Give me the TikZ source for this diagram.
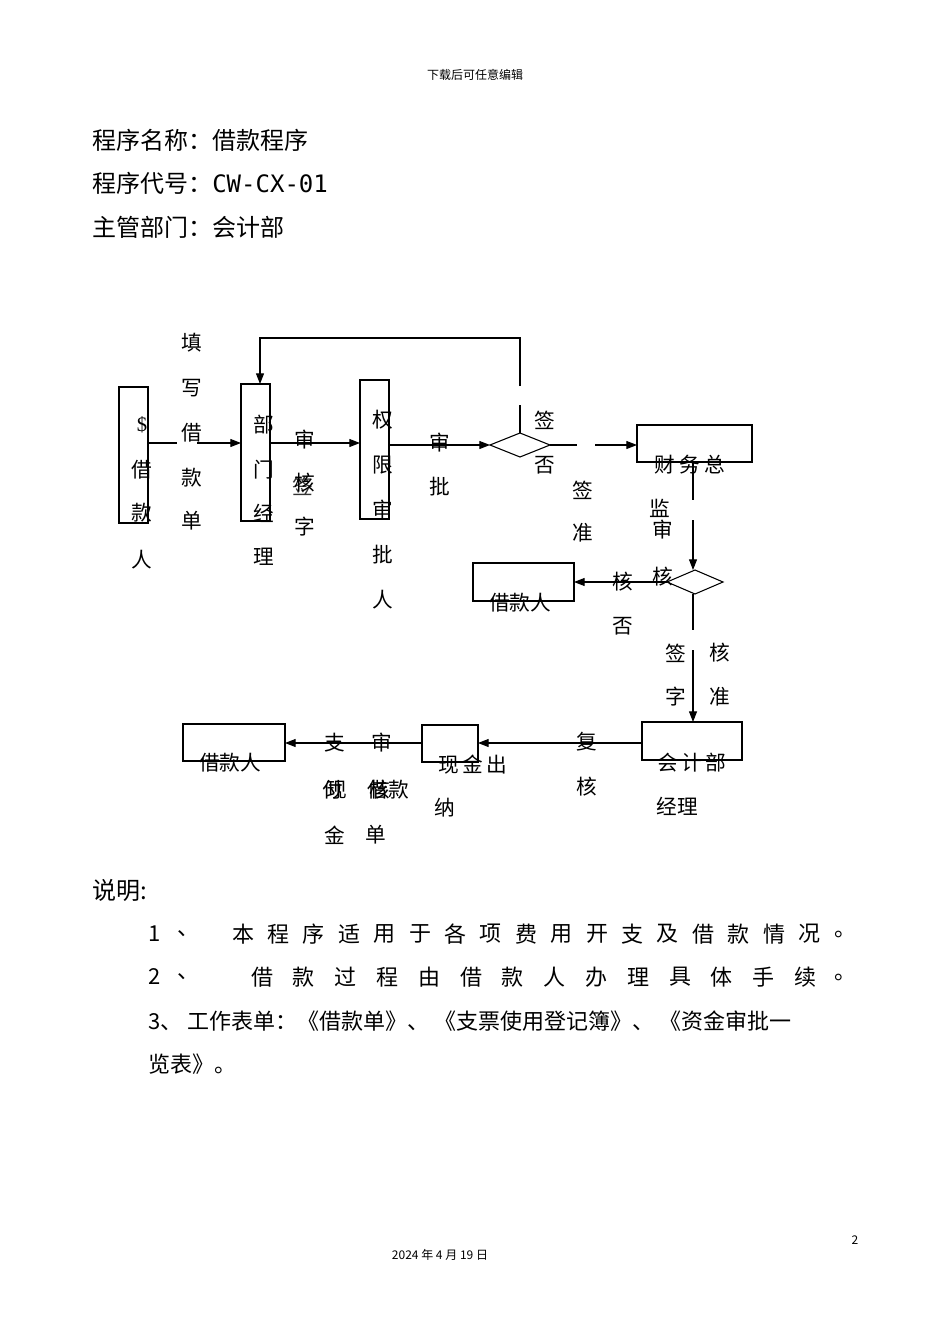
\documentclass[tikz,border=0pt]{standalone}
\usepackage{fontspec}
\setmainfont{Noto Sans CJK SC}
\newfontfamily\monof{DejaVu Sans Mono}
\newfontfamily\serf{Liberation Serif}
\usetikzlibrary{arrows.meta}
\begin{document}
\begin{tikzpicture}[x=0.75pt,y=-0.75pt,
  bx/.style={draw,line width=0.8pt},
  ln/.style={line width=0.8pt},
  ar/.style={line width=0.8pt,-{Triangle[length=8pt,width=6pt]}},
  ch/.style={inner sep=0pt,font=\fontsize{15.5}{16}\selectfont},
  big/.style={inner sep=0pt,anchor=west,font=\fontsize{18}{20}\selectfont},
  ds/.style={inner sep=0pt,font=\fontsize{16.5}{18}\selectfont}]
\useasboundingbox[fill=white] (0,0) rectangle (950,1344);
\node[inner sep=0pt,font=\fontsize{9}{10}\selectfont] (hd) at (475,75) {下载后可任意编辑};
\node[big] (t1) at (92,140) {程序名称：借款程序};
\node[big] (t2) at (92,183) {程序代号：{\monof CW-CX-01}};
\node[big] (t3) at (92,227) {主管部门：会计部};
% boxes
\draw[bx] (119,387) rectangle (148,523) coordinate (b1);
\coordinate (b1r) at (148,443);
\draw[bx] (241,384) rectangle (270,521);
\draw[bx] (360,380) rectangle (389,519);
\draw[bx] (637,425) rectangle (752,462);
\draw[bx] (473,563) rectangle (574,601);
\draw[bx] (642,722) rectangle (742,760);
\draw[bx] (422,725) rectangle (478,762);
\draw[bx] (183,724) rectangle (285,761);
\draw[bx] (490,445) -- (520,433) -- (550,445) -- (520,457) -- cycle;
\draw[bx] (667,582) -- (695,570) -- (723,582) -- (695,594) -- cycle;
% connectors
\coordinate (c1) at (177,443); \coordinate (c2) at (197,443); \coordinate (c3) at (241,443);
\draw[ln] (b1r) -- (c1); \draw[ar] (c2) -- (c3);
\draw[ar] (270,443) -- (360,443);
\draw[ar] (389,445) -- (490,445);
\draw[ln] (520,405) -- (520,433);
\draw[ar] (520,386) -- (520,338) -- (260,338) -- (260,384);
\draw[ln] (550,445) -- (577,445);
\draw[ar] (595,445) -- (637,445);
\draw[ln] (693,462) -- (693,500);
\draw[ar] (693,520) -- (693,570);
\draw[ar] (667,582) -- (574,582);
\draw[ln] (693,594) -- (693,630);
\draw[ar] (693,650) -- (693,722);
\draw[ar] (642,743) -- (478,743);
\draw[ar] (422,743) -- (285,743);
% texts
\foreach \c/\y in {{\serf\$}/425,借/470,款/513,人/560} \node[ch] at (142,\y) {\c};
\foreach \c/\y in {填/343,写/388,借/433,款/478,单/521} \node[ch] at (192,\y) {\c};
\foreach \c/\y in {部/425,门/470,经/513,理/557} \node[ch] at (264,\y) {\c};
\foreach \c/\y in {审/440,核/483,字/527} \node[ch] at (305,\y) {\c};
\node[ch,opacity=0.8] at (303,486) {签};
\foreach \c/\y in {权/420,限/465,审/510,批/555,人/600} \node[ch] at (383,\y) {\c};
\foreach \c/\y in {审/443,批/487} \node[ch] at (440,\y) {\c};
\node[ch] at (545,420) {签}; \node[ch] at (545,465) {否};
\node[ch] at (583,490) {签}; \node[ch] at (583,533) {准};
\node[ch] at (690,465) {财\ 务\ 总};
\node[ch] at (660,508) {监}; \node[ch] at (663,530) {审};
\node[ch] at (663,577) {核};
\node[ch] at (623,582) {核}; \node[ch] at (623,626) {否};
\node[ch] at (520,603) {借款人};
\node[ch] at (676,653) {签}; \node[ch] at (676,697) {字};
\node[ch] at (720,653) {核}; \node[ch] at (720,697) {准};
\node[ch] at (692,763) {会\,计\,部}; \node[ch] at (677,806) {经理};
\node[ch] at (587,742) {复}; \node[ch] at (587,787) {核};
\node[ch] at (473,765) {现\,金\,出}; \node[ch] at (445,808) {纳};
\node[ch] at (335,743) {支}; \node[ch] at (333,790) {付}; \node[ch] at (337,790) {现}; \node[ch] at (335,835) {金};
\node[ch] at (382,743) {审}; \node[ch] at (380,790) {核}; \node[ch] at (388,790) {借款}; \node[ch] at (376,835) {单};
\node[ch] at (230,763) {借款人};
% description
\node[big] at (92,890) {说明:};
\node[ds] at (155,934) {1}; \node[ds] at (188,934) {、};
\foreach \c [count=\i from 0] in {本,程,序,适,用,于,各,项,费,用,开,支,及,借,款,情,况}
  \node[ds] at (243+35.4*\i,934) {\c};
\node[ds] at (845,934) {。};
\node[ds] at (155,977) {2}; \node[ds] at (188,977) {、};
\foreach \c [count=\i from 0] in {借,款,过,程,由,借,款,人,办,理,具,体,手,续}
  \node[ds] at (262+41.8*\i,977) {\c};
\node[ds] at (845,977) {。};
\node[ds,anchor=west] at (148,1021) {3、 工作表单：《借款单》、 《支票使用登记簿》、 《资金审批一};
\node[ds,anchor=west] at (148,1064) {览表》。};
\node[inner sep=0pt,font=\fontsize{9}{10}\selectfont] at (855,1240) {2};
\node[inner sep=0pt,font=\fontsize{9}{10}\selectfont] at (440,1255) {2024 年 4 月 19 日};
\end{tikzpicture}
\end{document}
